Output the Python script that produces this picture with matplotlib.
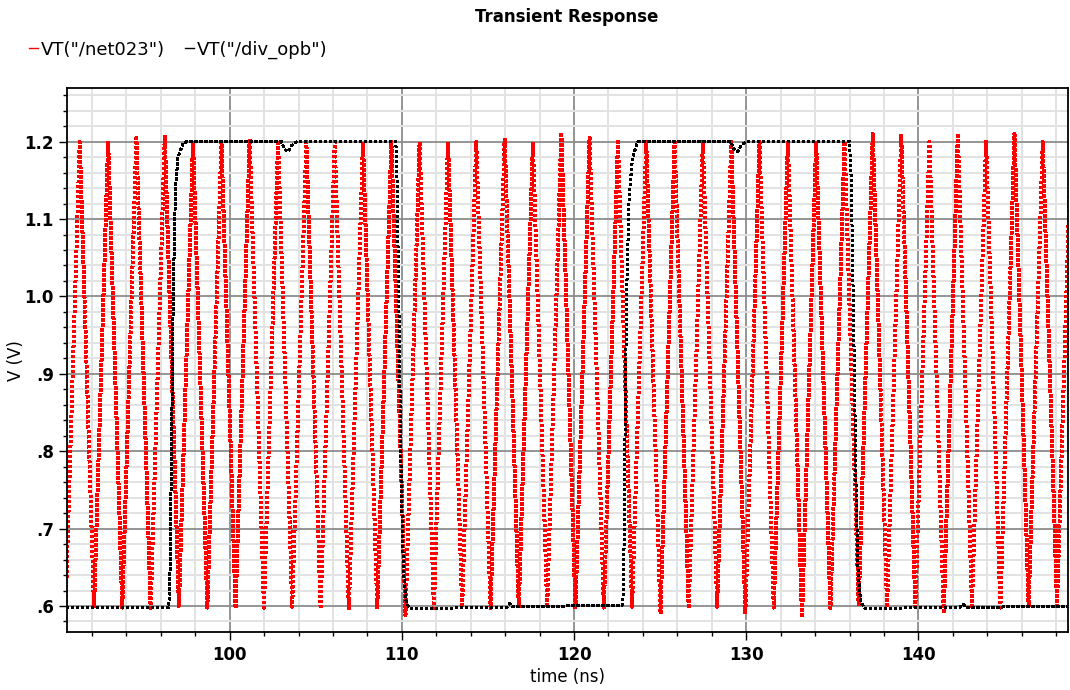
import matplotlib.pyplot as plt
from matplotlib.lines import Line2D
from matplotlib.ticker import MultipleLocator, FixedFormatter, FixedLocator

# VT("/net023"): times (ns) of troughs and crests
red_t = [90.47, 91.29, 92.12, 92.94, 93.76, 94.58, 95.41, 96.23, 97.05, 97.87,
         98.70, 99.52, 100.34, 101.16, 101.99, 102.81, 103.63, 104.45, 105.28, 106.10,
         106.92, 107.74, 108.57, 109.39, 110.21, 111.03, 111.86, 112.68, 113.50, 114.32,
         115.15, 115.97, 116.79, 117.61, 118.44, 119.26, 120.08, 120.90, 121.73, 122.55,
         123.37, 124.19, 125.02, 125.84, 126.66, 127.48, 128.31, 129.13, 129.95, 130.77,
         131.60, 132.42, 133.24, 134.06, 134.89, 135.71, 136.53, 137.35, 138.18, 139.00,
         139.82, 140.64, 141.47, 142.29, 143.11, 143.93, 144.76, 145.58, 146.40, 147.22,
         148.05, 148.87]
red_v = [0.598, 1.200, 0.597, 1.200, 0.598, 1.205, 0.597, 1.208, 0.600, 1.200,
         0.598, 1.200, 0.597, 1.203, 0.598, 1.202, 0.599, 1.200, 0.596, 1.200,
         0.595, 1.200, 0.597, 1.200, 0.588, 1.200, 0.597, 1.200, 0.598, 1.200,
         0.597, 1.205, 0.598, 1.199, 0.598, 1.212, 0.597, 1.205, 0.598, 1.200,
         0.599, 1.200, 0.590, 1.200, 0.597, 1.200, 0.599, 1.200, 0.590, 1.200,
         0.598, 1.200, 0.585, 1.200, 0.597, 1.200, 0.600, 1.210, 0.598, 1.210,
         0.599, 1.200, 0.590, 1.210, 0.600, 1.200, 0.598, 1.210, 0.600, 1.200,
         0.600, 1.205]

# VT("/div_opb"): divided clock, key points
blk_t = [90.50, 96.45, 96.52, 96.62, 96.72, 96.85, 97.00, 97.30, 97.50,
         103.00, 103.20, 103.40, 103.60, 103.90, 109.65, 109.72, 109.85, 109.97,
         110.10, 110.25, 110.45, 111.00, 116.10, 116.25, 116.40, 122.80, 122.88,
         122.95, 123.05, 123.20, 123.40, 123.70, 129.10, 129.30, 129.50, 129.70,
         130.00, 136.00, 136.10, 136.25, 136.38, 136.50, 136.65, 136.90, 142.40,
         142.60, 142.80, 148.80]
blk_v = [0.598, 0.598, 0.620, 0.800, 1.000, 1.140, 1.180, 1.198, 1.200,
         1.200, 1.190, 1.187, 1.195, 1.200, 1.200, 1.150, 0.950, 0.750,
         0.640, 0.605, 0.597, 0.597, 0.598, 0.603, 0.599, 0.601, 0.620,
         0.800, 1.000, 1.130, 1.180, 1.200, 1.200, 1.190, 1.187, 1.195,
         1.200, 1.200, 1.150, 0.950, 0.750, 0.640, 0.605, 0.597, 0.598,
         0.602, 0.598, 0.600]

y_ticks = [0.6, 0.7, 0.8, 0.9, 1.0, 1.1, 1.2]
y_labels = [".6", ".7", ".8", ".9", "1.0", "1.1", "1.2"]
x_ticks = [100, 110, 120, 130, 140]

fig = plt.figure(figsize=(10.7, 6.9), dpi=100)
ax = fig.add_axes([0.0626, 0.0834, 0.9354, 0.7891])

ax.plot(red_t, red_v, color="#ff0000", linewidth=2.2, dashes=(0.9, 0.9),
        antialiased=False)
ax.plot(blk_t, blk_v, color="black", linewidth=1.6, dashes=(1.0, 1.0),
        antialiased=False)

ax.set_xlim(90.55, 148.68)
ax.set_ylim(0.5658, 1.2694)

ax.xaxis.set_major_locator(FixedLocator(x_ticks))
ax.xaxis.set_minor_locator(MultipleLocator(2))
ax.yaxis.set_major_locator(FixedLocator(y_ticks))
ax.yaxis.set_major_formatter(FixedFormatter(y_labels))
ax.yaxis.set_minor_locator(MultipleLocator(0.02))

ax.grid(which="major", color="#8c8c8c", linewidth=1.3)
ax.grid(which="minor", color="#e2e2e2", linewidth=1.4)
ax.set_axisbelow(True)

ax.tick_params(which="major", length=6, width=1, labelsize=12)
ax.tick_params(which="minor", length=3, width=1)
for lab in ax.get_xticklabels() + ax.get_yticklabels():
    lab.set_fontweight("bold")
for s in ax.spines.values():
    s.set_linewidth(1.3)

ax.set_xlabel("time (ns)", fontsize=12, labelpad=3)
ax.set_ylabel("V (V)", fontsize=12, labelpad=-0.5)

fig.text(0.53, 0.975, "Transient Response", ha="center", va="center",
         fontsize=12, fontweight="bold")

handles = [Line2D([], [], color="#ff0000", linewidth=1),
           Line2D([], [], color="black", linewidth=1)]
fig.legend(handles, ['VT("/net023")', 'VT("/div_opb")'], loc="center left",
           bbox_to_anchor=(0.012, 0.928), ncol=2, frameon=False, fontsize=13,
           handlelength=0.5, handletextpad=0.15, columnspacing=1.1)

fig.savefig("out.png", dpi=100)
